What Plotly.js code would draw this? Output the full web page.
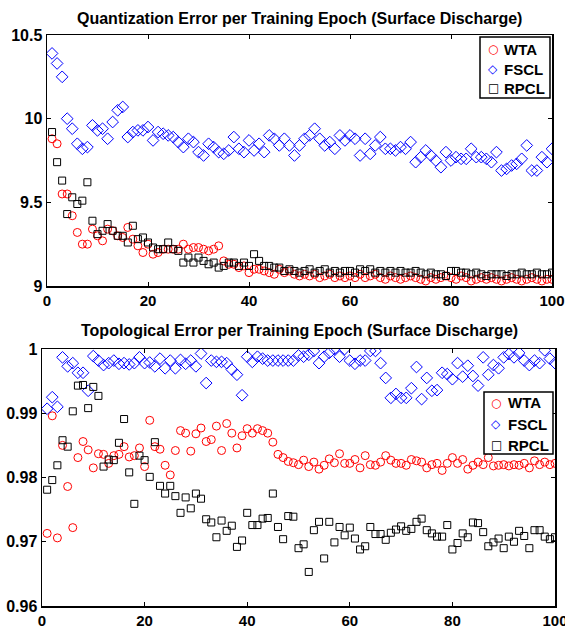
<!DOCTYPE html>
<html><head><meta charset="utf-8">
<script src="https://cdn.plot.ly/plotly-3.0.1.min.js"></script>
<style>html,body{margin:0;padding:0;background:#fff}#chart{width:565px;height:627px}</style>
</head><body><div id="chart"></div>
<script>
const epochs = [];
for (let i = 1; i <= 100; i++) epochs.push(i);

const qeWTA = [9.88,9.85,9.55,9.55,9.42,9.32,9.25,9.25,9.34,9.30,9.27,9.34,9.33,9.30,9.29,9.35,9.28,9.24,9.20,9.25,
9.19,9.20,9.22,9.22,9.22,9.22,9.25,9.22,9.23,9.23,9.22,9.21,9.22,9.24,9.15,9.13,9.13,9.11,9.12,9.08,
9.10,9.10,9.09,9.08,9.07,9.10,9.08,9.09,9.07,9.06,9.07,9.06,9.07,9.05,9.06,9.07,9.05,9.06,9.05,9.06,
9.05,9.07,9.05,9.06,9.07,9.05,9.04,9.06,9.05,9.04,9.05,9.06,9.05,9.04,9.03,9.05,9.04,9.05,9.06,9.05,
9.04,9.06,9.05,9.03,9.04,9.05,9.04,9.05,9.04,9.03,9.04,9.05,9.04,9.03,9.04,9.05,9.04,9.03,9.04,9.04];

const qeFSCL = [10.39,10.33,10.25,10.00,9.94,9.85,9.82,9.83,9.96,9.93,9.94,9.88,9.98,10.05,10.07,9.89,9.92,9.93,9.93,9.95,
9.87,9.92,9.91,9.90,9.89,9.86,9.83,9.88,9.86,9.80,9.78,9.85,9.83,9.80,9.79,9.81,9.89,9.82,9.80,9.87,
9.81,9.85,9.80,9.90,9.88,9.84,9.88,9.84,9.78,9.84,9.88,9.90,9.94,9.88,9.84,9.86,9.82,9.90,9.87,9.90,
9.88,9.78,9.88,9.79,9.84,9.89,9.82,9.82,9.81,9.83,9.82,9.86,9.74,9.77,9.81,9.78,9.75,9.71,9.80,9.75,
9.77,9.76,9.76,9.82,9.77,9.77,9.76,9.74,9.80,9.69,9.70,9.72,9.73,9.76,9.84,9.69,9.69,9.77,9.74,9.82];

const qeRPCL = [9.92,9.74,9.63,9.43,9.53,9.49,9.51,9.62,9.39,9.31,9.33,9.37,9.33,9.30,9.30,9.26,9.36,9.28,9.29,9.26,
9.23,9.22,9.22,9.26,9.22,9.21,9.14,9.17,9.14,9.17,9.15,9.13,9.14,9.11,9.12,9.14,9.14,9.12,9.14,9.12,
9.19,9.15,9.12,9.12,9.11,9.11,9.09,9.10,9.09,9.08,9.09,9.10,9.08,9.09,9.10,9.08,9.09,9.08,9.09,9.09,
9.08,9.10,9.09,9.10,9.08,9.09,9.08,9.09,9.08,9.09,9.08,9.08,9.09,9.08,9.07,9.08,9.07,9.07,9.06,9.09,
9.09,9.08,9.08,9.07,9.08,9.07,9.06,9.07,9.07,9.07,9.06,9.07,9.07,9.08,9.07,9.07,9.08,9.07,9.07,9.08];

const teWTA = [0.9713,0.9896,0.9706,0.9850,0.9786,0.9722,0.9831,0.9856,0.9843,0.9815,0.9837,0.9836,0.9822,0.9834,0.9836,0.9848,0.9832,0.9834,0.9846,0.9817,
0.9889,0.9848,0.9844,0.9819,0.9804,0.9842,0.9873,0.9869,0.9841,0.9868,0.9877,0.9856,0.9859,0.9880,0.9842,0.9884,0.9869,0.9846,0.9865,0.9876,
0.9869,0.9876,0.9873,0.9869,0.9855,0.9836,0.9831,0.9825,0.9823,0.9820,0.9827,0.9817,0.9824,0.9813,0.9819,0.9829,0.9823,0.9837,0.9822,0.9822,
0.9828,0.9815,0.9834,0.9820,0.9819,0.9824,0.9834,0.9827,0.9822,0.9822,0.9819,0.9828,0.9826,0.9824,0.9815,0.9820,0.9822,0.9811,0.9822,0.9831,
0.9822,0.9828,0.9813,0.9819,0.9824,0.9820,0.9831,0.9818,0.9819,0.9820,0.9818,0.9820,0.9819,0.9822,0.9815,0.9826,0.9820,0.9824,0.9820,0.9822];

const teFSCL = [0.9907,0.9925,0.9910,0.9987,0.9973,0.9978,0.9963,0.9963,0.9935,0.9989,0.9982,0.9975,0.9978,0.9982,0.9977,0.9978,0.9976,0.9978,0.9987,0.9978,
0.9979,0.9973,0.9985,0.9970,0.9982,0.9970,0.9983,0.9977,0.9982,0.9973,0.9993,0.9947,0.9982,0.9980,0.9980,0.9978,0.9968,0.9960,0.9928,0.9988,
0.9980,0.9988,0.9985,0.9982,0.9982,0.9982,0.9982,0.9982,0.9982,0.9990,0.9988,0.9991,0.9997,0.9978,0.9988,0.9994,1.0000,0.9988,1.0000,0.9982,
0.9977,0.9982,0.9982,0.9997,0.9997,0.9978,0.9955,0.9924,0.9930,0.9924,0.9924,0.9939,0.9972,0.9922,0.9955,0.9935,0.9936,0.9963,0.9961,0.9953,
0.9978,0.9957,0.9974,0.9958,0.9943,0.9987,0.9960,0.9975,0.9970,0.9987,0.9992,0.9987,0.9994,0.9982,0.9975,0.9982,0.9978,0.9998,0.9985,0.9978];

const teRPCL = [0.9781,0.9796,0.9819,0.9858,0.9848,0.9903,0.9943,0.9944,0.9908,0.9941,0.9927,0.9817,0.9828,0.9827,0.9854,0.9891,0.9808,0.9759,0.9834,0.9827,
0.9801,0.9855,0.9787,0.9775,0.9787,0.9771,0.9745,0.9769,0.9752,0.9775,0.9767,0.9735,0.9730,0.9707,0.9733,0.9717,0.9725,0.9692,0.9702,0.9745,
0.9726,0.9726,0.9736,0.9737,0.9775,0.9723,0.9704,0.9740,0.9739,0.9690,0.9696,0.9653,0.9718,0.9731,0.9674,0.9731,0.9699,0.9723,0.9710,0.9722,
0.9705,0.9688,0.9693,0.9723,0.9712,0.9712,0.9703,0.9714,0.9719,0.9724,0.9717,0.9720,0.9731,0.9736,0.9718,0.9713,0.9708,0.9708,0.9726,0.9688,
0.9698,0.9713,0.9707,0.9730,0.9729,0.9715,0.9693,0.9699,0.9705,0.9690,0.9708,0.9700,0.9717,0.9709,0.9690,0.9718,0.9718,0.9708,0.9704,0.9707];

const seriesNames = ['WTA','FSCL','RPCL'];
const legendGlyphs = ['\u25CB','\u25C7','\u25A1'];
const titles = ['Quantization Error per Training Epoch (Surface Discharge)','Topological Error per Training Epoch (Surface Discharge)'];
const qeTicks = [9, 9.5, 10, 10.5];
const qeTickText = ['9','9.5','10','10.5'];
const teTicks = [0.96, 0.97, 0.98, 0.99, 1];
const teTickText = ['0.96','0.97','0.98','0.99','1'];
const xTicks = [0, 20, 40, 60, 80, 100];

const W = 565, H = 627;
const FONT = 'Liberation Sans, Arial, sans-serif';
const colors = ['#ff0000', '#0000ff', '#000000'];
const styles = [
  {symbol:'circle-open', size:8},
  {symbol:'diamond-open', size:9},
  {symbol:'square-open', size:7}
];
function mk(i, x, y, xa, ya) {
  return {x:x, y:y, xaxis:xa, yaxis:ya, type:'scatter', mode:'markers', name:seriesNames[i], showlegend:false,
    marker:{symbol:styles[i].symbol, size:styles[i].size, color:colors[i], line:{width:1, color:colors[i]}}};
}
const data = [
  mk(0, epochs, qeWTA, 'x', 'y'),
  mk(1, epochs, qeFSCL, 'x', 'y'),
  mk(2, epochs, qeRPCL, 'x', 'y'),
  mk(0, epochs, teWTA, 'x2', 'y2'),
  mk(1, epochs, teFSCL, 'x2', 'y2'),
  mk(2, epochs, teRPCL, 'x2', 'y2')
];

function ax(extra, fsize) {
  return Object.assign({showline:true, linecolor:'#000', linewidth:1.5, mirror:'ticks',
    ticks:'inside', ticklen:4, tickcolor:'#000', tickwidth:1, showgrid:false, zeroline:false,
    tickfont:{family:FONT, size:fsize, color:'#000', weight:'bold'}, fixedrange:true, ticklabeloverflow:'allow'}, extra);
}

function px(x){return x/W;} function py(y){return 1-y/H;}
const legendBoxes = [
  {x0:480, x1:550, y0:37, y1:98, symX:493, txtX:502, rows:[49,69,88]},
  {x0:484, x1:553, y0:392, y1:454, symX:496, txtX:506, rows:[403,424,445]}
];
const shapes = [];
const annotations = [
  {text:'<b>'+titles[0]+'</b>', xref:'paper', yref:'paper', x:px(299), y:py(18), xanchor:'center', yanchor:'middle', showarrow:false,
    font:{family:FONT, size:16, color:'#000'}},
  {text:'<b>'+titles[1]+'</b>', xref:'paper', yref:'paper', x:px(299), y:py(330), xanchor:'center', yanchor:'middle', showarrow:false,
    font:{family:FONT, size:16, color:'#000'}}
];
legendBoxes.forEach(b => {
  shapes.push({type:'rect', xref:'paper', yref:'paper', x0:px(b.x0), x1:px(b.x1), y0:py(b.y1), y1:py(b.y0),
    line:{color:'#000', width:1.5}, fillcolor:'#fff', layer:'above'});
  b.rows.forEach((ry, i) => {
    annotations.push({text:legendGlyphs[i], xref:'paper', yref:'paper', x:px(b.symX), y:py(ry), xanchor:'center', yanchor:'middle',
      showarrow:false, font:{family:'DejaVu Sans', size:12, color:colors[i]}});
    annotations.push({text:'<b>'+seriesNames[i]+'</b>', xref:'paper', yref:'paper', x:px(b.txtX), y:py(ry), xanchor:'left', yanchor:'middle',
      showarrow:false, font:{family:FONT, size:15, color:'#000'}});
  });
});

const layout = {
  width:W, height:H, margin:{l:0, r:0, t:0, b:0}, paper_bgcolor:'#fff', plot_bgcolor:'#fff',
  font:{family:FONT, color:'#000'}, showlegend:false,
  xaxis: ax({domain:[47/W, 552/W], range:[0,100], tickvals:xTicks, anchor:'y'}, 15),
  yaxis: ax({domain:[1-286/H, 1-35/H], range:[9,10.5], tickvals:qeTicks, ticktext:qeTickText, anchor:'x'}, 16),
  xaxis2: ax({domain:[42/W, 555/W], range:[0,100], tickvals:xTicks, anchor:'y2'}, 15),
  yaxis2: ax({domain:[1-606/H, 1-349/H], range:[0.96,1], tickvals:teTicks, ticktext:teTickText, anchor:'x2'}, 16),
  shapes: shapes,
  annotations: annotations
};
Plotly.newPlot('chart', data, layout, {displayModeBar:false, staticPlot:true});
</script>
</body></html>
